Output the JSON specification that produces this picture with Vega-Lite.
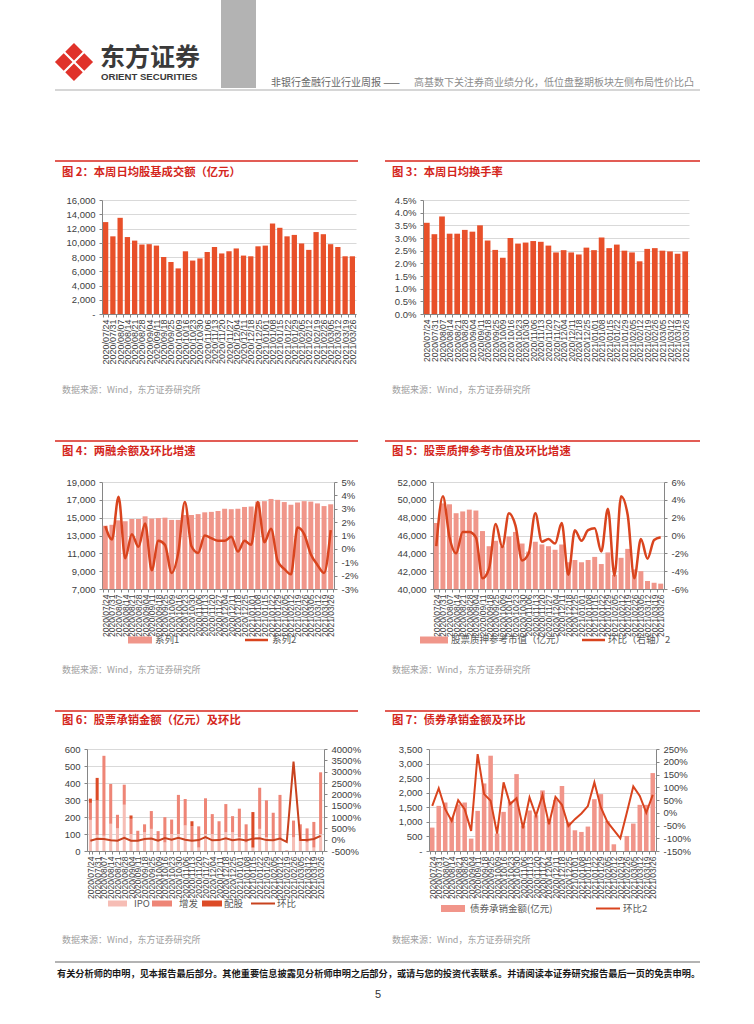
{
"$schema": "https://vega.github.io/schema/vega-lite/v6.json",
"padding": 0,
"background": "white",
"autosize": {"type": "pad"},
"bounds": "full",
"spacing": 0,
"config": {
  "view": {"stroke": null},
  "font": "Liberation Sans",
  "axis": {"labelFont": "Liberation Sans", "labelFontSize": 9.5, "labelColor": "#404040", "domainColor": "#868686", "tickColor": "#868686", "tickSize": 3, "gridColor": "#D9D9D9", "labelPadding": 4, "grid": false},
  "axisX": {"labelAngle": -90, "labelFontSize": 8.5, "labelOverlap": false, "labelPadding": 2, "tickBand": "extent", "labelBound": false}
},
"datasets": {"w": [
{"d":"2020/07/24","amt":12900,"tr":3.6,"bal":14100,"c4":1.7,"mv":47400,"c5":-1.2,"IPO":183,"增发":100,"配股":25,"c6":-50,"bond":803,"c7":27},
{"d":"2020/07/31","amt":10900,"tr":3.15,"bal":14200,"c4":0.7,"mv":49600,"c5":4.4,"IPO":95,"增发":202,"配股":133,"c6":40,"bond":1549,"c7":96},
{"d":"2020/08/07","amt":13500,"tr":3.85,"bal":14700,"c4":3.9,"mv":49500,"c5":-0.2,"IPO":90,"增发":470,"配股":0,"c6":30,"bond":1664,"c7":14},
{"d":"2020/08/14","amt":10800,"tr":3.17,"bal":14600,"c4":-0.7,"mv":48500,"c5":-2.0,"IPO":160,"增发":234,"配股":0,"c6":-30,"bond":1150,"c7":-32},
{"d":"2020/08/21","amt":10300,"tr":3.17,"bal":14850,"c4":1.1,"mv":48700,"c5":0.4,"IPO":133,"增发":80,"配股":0,"c6":-46,"bond":1600,"c7":49},
{"d":"2020/08/28","amt":9750,"tr":3.32,"bal":14850,"c4":0.15,"mv":48900,"c5":0.4,"IPO":272,"增发":118,"配股":0,"c6":83,"bond":1664,"c7":14},
{"d":"2020/09/04","amt":9800,"tr":3.25,"bal":15150,"c4":1.9,"mv":48800,"c5":-0.2,"IPO":100,"增发":89,"配股":20,"c6":-46,"bond":425,"c7":-71},
{"d":"2020/09/11","amt":9600,"tr":3.5,"bal":14900,"c4":-1.6,"mv":46500,"c5":-4.8,"IPO":60,"增发":59,"配股":0,"c6":-43,"bond":1377,"c7":230},
{"d":"2020/09/18","amt":8000,"tr":2.9,"bal":14950,"c4":0.6,"mv":44800,"c5":-3.7,"IPO":110,"增发":47,"配股":0,"c6":32,"bond":2318,"c7":73},
{"d":"2020/09/25","amt":7300,"tr":2.53,"bal":15000,"c4":0.3,"mv":45400,"c5":1.3,"IPO":130,"增发":105,"配股":0,"c6":50,"bond":3270,"c7":47},
{"d":"2020/10/09","amt":6400,"tr":2.22,"bal":14750,"c4":-1.8,"mv":44800,"c5":-1.3,"IPO":60,"增发":57,"配股":0,"c6":-50,"bond":600,"c7":-82},
{"d":"2020/10/16","amt":8800,"tr":3.0,"bal":14750,"c4":-0.3,"mv":45900,"c5":2.5,"IPO":50,"增发":149,"配股":0,"c6":70,"bond":1343,"c7":119},
{"d":"2020/10/23","amt":7500,"tr":2.78,"bal":15300,"c4":3.5,"mv":46400,"c5":1.1,"IPO":100,"增发":85,"配股":0,"c6":-7,"bond":1700,"c7":34},
{"d":"2020/10/30","amt":7800,"tr":2.82,"bal":15300,"c4":0.2,"mv":45100,"c5":-2.8,"IPO":100,"增发":230,"配股":0,"c6":78,"bond":2639,"c7":57},
{"d":"2020/11/06","amt":8700,"tr":2.88,"bal":15400,"c4":-0.3,"mv":44200,"c5":-2.0,"IPO":150,"增发":156,"配股":0,"c6":-7,"bond":870,"c7":-61},
{"d":"2020/11/13","amt":9400,"tr":2.85,"bal":15600,"c4":1.0,"mv":45300,"c5":2.5,"IPO":60,"增发":85,"配股":30,"c6":-43,"bond":1390,"c7":60},
{"d":"2020/11/20","amt":8500,"tr":2.7,"bal":15650,"c4":0.8,"mv":45000,"c5":-0.7,"IPO":20,"增发":125,"配股":0,"c6":-17,"bond":1225,"c7":-12},
{"d":"2020/11/27","amt":8800,"tr":2.43,"bal":15750,"c4":0.6,"mv":44800,"c5":-0.4,"IPO":100,"增发":210,"配股":0,"c6":114,"bond":2080,"c7":70},
{"d":"2020/12/04","amt":9200,"tr":2.52,"bal":16000,"c4":0.6,"mv":44400,"c5":-0.9,"IPO":100,"增发":117,"配股":0,"c6":-30,"bond":1100,"c7":-45},
{"d":"2020/12/11","amt":8200,"tr":2.43,"bal":15950,"c4":0.9,"mv":45000,"c5":1.4,"IPO":60,"增发":115,"配股":0,"c6":-19,"bond":1750,"c7":62},
{"d":"2020/12/18","amt":8100,"tr":2.35,"bal":16000,"c4":-0.2,"mv":43000,"c5":-4.4,"IPO":110,"增发":166,"配股":0,"c6":58,"bond":2230,"c7":31},
{"d":"2020/12/25","amt":9500,"tr":2.62,"bal":16200,"c4":0.6,"mv":43250,"c5":0.6,"IPO":110,"增发":95,"配股":0,"c6":-26,"bond":1000,"c7":-52},
{"d":"2021/01/01","amt":9600,"tr":2.52,"bal":16250,"c4":0.3,"mv":43000,"c5":-0.6,"IPO":80,"增发":169,"配股":0,"c6":21,"bond":711,"c7":-25},
{"d":"2021/01/08","amt":12700,"tr":3.02,"bal":16800,"c4":3.5,"mv":43250,"c5":0.6,"IPO":50,"增发":107,"配股":0,"c6":-37,"bond":654,"c7":-3},
{"d":"2021/01/15","amt":12100,"tr":2.6,"bal":16850,"c4":0.5,"mv":43600,"c5":0.8,"IPO":20,"增发":0,"配股":209,"c6":45,"bond":838,"c7":26},
{"d":"2021/01/22","amt":10900,"tr":2.74,"bal":17100,"c4":1.5,"mv":42800,"c5":-1.8,"IPO":130,"增发":242,"配股":0,"c6":63,"bond":1779,"c7":119},
{"d":"2021/01/29","amt":11100,"tr":2.5,"bal":17000,"c4":-0.9,"mv":44100,"c5":3.0,"IPO":80,"增发":218,"配股":0,"c6":-20,"bond":1951,"c7":21},
{"d":"2021/02/05","amt":9900,"tr":2.43,"bal":16750,"c4":-1.5,"mv":41600,"c5":-4.5,"IPO":60,"增发":165,"配股":0,"c6":-24,"bond":1033,"c7":-36},
{"d":"2021/02/12","amt":9000,"tr":2.08,"bal":16450,"c4":-1.9,"mv":43500,"c5":4.4,"IPO":70,"增发":260,"配股":0,"c6":47,"bond":230,"c7":-68},
{"d":"2021/02/19","amt":11500,"tr":2.57,"bal":16700,"c4":1.6,"mv":44500,"c5":2.3,"IPO":3,"增发":2,"配股":0,"c6":-98,"bond":0,"c7":-100},
{"d":"2021/02/26","amt":11200,"tr":2.6,"bal":16850,"c4":1.1,"mv":42200,"c5":-4.8,"IPO":80,"增发":99,"配股":0,"c6":3450,"bond":516,"c7":0},
{"d":"2021/03/05","amt":9800,"tr":2.5,"bal":16800,"c4":-0.4,"mv":42000,"c5":-0.4,"IPO":60,"增发":97,"配股":0,"c6":-12,"bond":941,"c7":103},
{"d":"2021/03/12","amt":9400,"tr":2.47,"bal":16600,"c4":-1.2,"mv":40900,"c5":-2.6,"IPO":50,"增发":83,"配股":0,"c6":-15,"bond":1584,"c7":66},
{"d":"2021/03/19","amt":8100,"tr":2.38,"bal":16300,"c4":-1.8,"mv":40700,"c5":-0.5,"IPO":20,"增发":151,"配股":0,"c6":29,"bond":1584,"c7":0},
{"d":"2021/03/26","amt":8100,"tr":2.47,"bal":16500,"c4":1.4,"mv":40600,"c5":-0.2,"IPO":100,"增发":363,"配股":0,"c6":171,"bond":2674,"c7":70}
]},
"vconcat": [
{"width": 750, "height": 130, "layer": [
  {"data": {"values": [{}]}, "mark": {"type": "rect", "opacity": 0}, "encoding": {"x": {"value": 0}, "x2": {"value": 750}, "y": {"value": 0}, "y2": {"value": 130}}},
  {"data": {"values": [{}]}, "mark": {"type": "rect", "color": "#B3B3B3"}, "encoding": {"x": {"value": 221}, "x2": {"value": 256}, "y": {"value": 0}, "y2": {"value": 88}}},
  {"data": {"values": [{}]}, "mark": {"type": "point", "filled": true, "color": "#E0322A", "opacity": 1, "size": 1450, "shape": "M0,-1L0.46,-0.54L0,-0.08L-0.46,-0.54Z M-1,0L-0.54,-0.46L-0.08,0L-0.54,0.46Z M1,0L0.54,-0.46L0.08,0L0.54,0.46Z M0,1L0.46,0.54L0,0.08L-0.46,0.54Z"}, "encoding": {"x": {"value": 74}, "y": {"value": 62}}},
  {"data": {"values": [{}]}, "mark": {"type": "text", "text": "东方证券", "align": "left", "baseline": "middle", "font": "Noto Sans CJK SC", "fontSize": 25, "fontWeight": "bold", "color": "#3A3A3A"}, "encoding": {"x": {"value": 100}, "y": {"value": 58}}},
  {"data": {"values": [{}]}, "mark": {"type": "text", "text": "ORIENT SECURITIES", "align": "left", "baseline": "middle", "font": "Liberation Sans", "fontSize": 9.6, "fontWeight": "bold", "color": "#3A3A3A"}, "encoding": {"x": {"value": 101}, "y": {"value": 77}}},
  {"data": {"values": [{}]}, "mark": {"type": "text", "text": "非银行金融行业行业周报 ——", "align": "left", "baseline": "middle", "font": "Noto Sans CJK SC", "fontSize": 10, "color": "#666666"}, "encoding": {"x": {"value": 271}, "y": {"value": 83}}},
  {"data": {"values": [{}]}, "mark": {"type": "text", "text": "高基数下关注券商业绩分化，低位盘整期板块左侧布局性价比凸", "align": "left", "baseline": "middle", "font": "Noto Sans CJK SC", "fontSize": 10, "color": "#8C8C8C"}, "encoding": {"x": {"value": 414}, "y": {"value": 83}}},
  {"data": {"values": [{}]}, "mark": {"type": "rule", "color": "#C8C8C8", "strokeWidth": 1.5}, "encoding": {"x": {"value": 55}, "x2": {"value": 700}, "y": {"value": 90}}}
]},
{"hconcat": [
  {"width": 102, "height": 114, "data": {"values": [{}]}, "mark": {"type": "rect", "opacity": 0}, "encoding": {"x": {"value": 0}, "x2": {"value": 750}, "y": {"value": -70}, "y2": {"value": 220}}},
  {"width": 254, "height": 114, "data": {"name": "w"}, "layer": [
    {"mark": {"type": "bar", "color": "#E8502A"}, "encoding": {
      "x": {"field": "d", "type": "ordinal", "scale": {"paddingInner": 0.27, "paddingOuter": 0.135}, "axis": {"title": null, "labelFontSize": 9}},
      "y": {"field": "amt", "type": "quantitative", "scale": {"domain": [0, 16000], "nice": false}, "axis": {"title": null, "grid": true, "values": [0,2000,4000,6000,8000,10000,12000,14000,16000], "labelExpr": "datum.value == 0 ? '-' : format(datum.value, ',')"}}}},
    {"data": {"values": [{}]}, "mark": {"type": "rule", "color": "#D9261C", "strokeWidth": 1.5}, "encoding": {"x": {"value": -47}, "x2": {"value": 256}, "y": {"value": -39}}},
    {"data": {"values": [{}]}, "mark": {"type": "text", "text": "图 2：本周日均股基成交额（亿元）", "align": "left", "baseline": "middle", "font": "Noto Sans CJK SC", "fontSize": 11.3, "fontWeight": "bold", "color": "#D4261C"}, "encoding": {"x": {"value": -40}, "y": {"value": -27}}},
    {"data": {"values": [{}]}, "mark": {"type": "text", "text": "数据来源：Wind，东方证券研究所", "align": "left", "baseline": "middle", "font": "Noto Sans CJK SC", "fontSize": 9, "color": "#A0A0A0"}, "encoding": {"x": {"value": -40}, "y": {"value": 190}}}
  ]},
  {"width": 67, "height": 114, "data": {"values": []}, "mark": "point"},
  {"width": 266, "height": 114, "data": {"name": "w"}, "layer": [
    {"mark": {"type": "bar", "color": "#E8502A"}, "encoding": {
      "x": {"field": "d", "type": "ordinal", "scale": {"paddingInner": 0.25, "paddingOuter": 0.125}, "axis": {"title": null}},
      "y": {"field": "tr", "type": "quantitative", "scale": {"domain": [0, 4.5], "nice": false}, "axis": {"title": null, "grid": true, "values": [0,0.5,1,1.5,2,2.5,3,3.5,4,4.5], "labelExpr": "format(datum.value, '.1f') + '%'"}}}},
    {"data": {"values": [{}]}, "mark": {"type": "rule", "color": "#D9261C", "strokeWidth": 1.5}, "encoding": {"x": {"value": -38}, "x2": {"value": 277}, "y": {"value": -39}}},
    {"data": {"values": [{}]}, "mark": {"type": "text", "text": "图 3：本周日均换手率", "align": "left", "baseline": "middle", "font": "Noto Sans CJK SC", "fontSize": 11.3, "fontWeight": "bold", "color": "#D4261C"}, "encoding": {"x": {"value": -31}, "y": {"value": -27}}},
    {"data": {"values": [{}]}, "mark": {"type": "text", "text": "数据来源：Wind，东方证券研究所", "align": "left", "baseline": "middle", "font": "Noto Sans CJK SC", "fontSize": 9, "color": "#A0A0A0"}, "encoding": {"x": {"value": -31}, "y": {"value": 190}}}
  ]}
], "spacing": 0, "bounds": "flush"},
{"hconcat": [
  {"width": 102, "height": 107, "data": {"values": [{}]}, "mark": {"type": "rect", "opacity": 0}, "encoding": {"x": {"value": 0}, "x2": {"value": 750}, "y": {"value": -62}, "y2": {"value": 218}}},
  {"width": 232, "height": 107, "data": {"name": "w"}, "resolve": {"scale": {"y": "independent"}}, "layer": [
    {"mark": {"type": "bar", "color": "#F0968A", "clip": true}, "encoding": {
      "x": {"field": "d", "type": "ordinal", "scale": {"paddingInner": 0.25, "paddingOuter": 0.125}, "axis": {"title": null}},
      "y": {"field": "bal", "type": "quantitative", "scale": {"domain": [7000, 19000], "nice": false, "zero": false}, "axis": {"title": null, "grid": true, "values": [7000,9000,11000,13000,15000,17000,19000], "labelExpr": "format(datum.value, ',')"}},
      "y2": {"datum": 7000}}},
    {"mark": {"type": "line", "color": "#D9441E", "strokeWidth": 2.5, "interpolate": "monotone"}, "encoding": {
      "x": {"field": "d", "type": "ordinal", "scale": {"paddingInner": 0.25, "paddingOuter": 0.125}, "axis": {"title": null}},
      "y": {"field": "c4", "type": "quantitative", "scale": {"domain": [-3, 5], "nice": false, "zero": false}, "axis": {"title": null, "orient": "right", "values": [-3,-2,-1,0,1,2,3,4,5], "labelExpr": "datum.value + '%'"}}}},
    {"data": {"values": [{}]}, "mark": {"type": "rule", "color": "#D9261C", "strokeWidth": 1.5}, "encoding": {"x": {"value": -47}, "x2": {"value": 256}, "y": {"value": -41}}},
    {"data": {"values": [{}]}, "mark": {"type": "text", "text": "图 4：两融余额及环比增速", "align": "left", "baseline": "middle", "font": "Noto Sans CJK SC", "fontSize": 11.3, "fontWeight": "bold", "color": "#D4261C"}, "encoding": {"x": {"value": -40}, "y": {"value": -30}}},
    {"data": {"values": [{}]}, "mark": {"type": "rect", "color": "#F0968A"}, "encoding": {"x": {"value": 26}, "x2": {"value": 50}, "y": {"value": 154.5}, "y2": {"value": 161.5}}},
    {"data": {"values": [{}]}, "mark": {"type": "text", "text": "系列1", "align": "left", "baseline": "middle", "font": "Noto Sans CJK SC", "fontSize": 9.5, "color": "#595959"}, "encoding": {"x": {"value": 53}, "y": {"value": 158}}},
    {"data": {"values": [{}]}, "mark": {"type": "rule", "color": "#D9441E", "strokeWidth": 2.5}, "encoding": {"x": {"value": 143}, "x2": {"value": 166}, "y": {"value": 158}}},
    {"data": {"values": [{}]}, "mark": {"type": "text", "text": "系列2", "align": "left", "baseline": "middle", "font": "Noto Sans CJK SC", "fontSize": 9.5, "color": "#595959"}, "encoding": {"x": {"value": 170}, "y": {"value": 158}}},
    {"data": {"values": [{}]}, "mark": {"type": "text", "text": "数据来源：Wind，东方证券研究所", "align": "left", "baseline": "middle", "font": "Noto Sans CJK SC", "fontSize": 9, "color": "#A0A0A0"}, "encoding": {"x": {"value": -40}, "y": {"value": 188}}}
  ]},
  {"width": 99, "height": 107, "data": {"values": []}, "mark": "point"},
  {"width": 231, "height": 107, "data": {"name": "w"}, "resolve": {"scale": {"y": "independent"}}, "layer": [
    {"mark": {"type": "bar", "color": "#F0968A", "clip": true}, "encoding": {
      "x": {"field": "d", "type": "ordinal", "scale": {"paddingInner": 0.25, "paddingOuter": 0.125}, "axis": {"title": null}},
      "y": {"field": "mv", "type": "quantitative", "scale": {"domain": [40000, 52000], "nice": false, "zero": false}, "axis": {"title": null, "grid": true, "values": [40000,42000,44000,46000,48000,50000,52000], "labelExpr": "format(datum.value, ',')"}},
      "y2": {"datum": 40000}}},
    {"mark": {"type": "line", "color": "#D9441E", "strokeWidth": 2.5, "interpolate": "monotone"}, "encoding": {
      "x": {"field": "d", "type": "ordinal", "scale": {"paddingInner": 0.25, "paddingOuter": 0.125}, "axis": {"title": null}},
      "y": {"field": "c5", "type": "quantitative", "scale": {"domain": [-6, 6], "nice": false, "zero": false}, "axis": {"title": null, "orient": "right", "values": [-6,-4,-2,0,2,4,6], "labelExpr": "datum.value + '%'"}}}},
    {"data": {"values": [{}]}, "mark": {"type": "rule", "color": "#D9261C", "strokeWidth": 1.5}, "encoding": {"x": {"value": -48}, "x2": {"value": 267}, "y": {"value": -41}}},
    {"data": {"values": [{}]}, "mark": {"type": "text", "text": "图 5：股票质押参考市值及环比增速", "align": "left", "baseline": "middle", "font": "Noto Sans CJK SC", "fontSize": 11.3, "fontWeight": "bold", "color": "#D4261C"}, "encoding": {"x": {"value": -41}, "y": {"value": -30}}},
    {"data": {"values": [{}]}, "mark": {"type": "rect", "color": "#F0968A"}, "encoding": {"x": {"value": -13}, "x2": {"value": 15}, "y": {"value": 154.5}, "y2": {"value": 161.5}}},
    {"data": {"values": [{}]}, "mark": {"type": "text", "text": "股票质押参考市值（亿元）", "align": "left", "baseline": "middle", "font": "Noto Sans CJK SC", "fontSize": 9.5, "color": "#595959"}, "encoding": {"x": {"value": 18}, "y": {"value": 158}}},
    {"data": {"values": [{}]}, "mark": {"type": "rule", "color": "#D9441E", "strokeWidth": 2.5}, "encoding": {"x": {"value": 149}, "x2": {"value": 172}, "y": {"value": 158}}},
    {"data": {"values": [{}]}, "mark": {"type": "text", "text": "环比（右轴）2", "align": "left", "baseline": "middle", "font": "Noto Sans CJK SC", "fontSize": 9.5, "color": "#595959"}, "encoding": {"x": {"value": 175}, "y": {"value": 158}}},
    {"data": {"values": [{}]}, "mark": {"type": "text", "text": "数据来源：Wind，东方证券研究所", "align": "left", "baseline": "middle", "font": "Noto Sans CJK SC", "fontSize": 9, "color": "#A0A0A0"}, "encoding": {"x": {"value": -41}, "y": {"value": 188}}}
  ]}
], "spacing": 0, "bounds": "flush"},
{"hconcat": [
  {"width": 87, "height": 102, "data": {"values": [{}]}, "mark": {"type": "rect", "opacity": 0}, "encoding": {"x": {"value": 0}, "x2": {"value": 750}, "y": {"value": -49}, "y2": {"value": 211}}},
  {"width": 237, "height": 102, "data": {"name": "w"}, "resolve": {"scale": {"y": "independent"}}, "layer": [
    {"transform": [{"fold": ["IPO", "增发", "配股"], "as": ["kind", "val"]}],
     "mark": {"type": "bar"}, "encoding": {
      "x": {"field": "d", "type": "ordinal", "scale": {"paddingInner": 0.55, "paddingOuter": 0.275}, "axis": {"title": null}},
      "y": {"field": "val", "type": "quantitative", "stack": "zero", "scale": {"domain": [0, 600], "nice": false}, "axis": {"title": null, "grid": true, "values": [0,100,200,300,400,500,600]}},
      "color": {"field": "kind", "type": "nominal", "scale": {"domain": ["IPO", "增发", "配股"], "range": ["#F6BDB5", "#EE8576", "#DC4B27"]}, "legend": null},
      "order": {"field": "kind", "sort": "ascending"}}},
    {"mark": {"type": "line", "color": "#C8421E", "strokeWidth": 2}, "encoding": {
      "x": {"field": "d", "type": "ordinal", "scale": {"paddingInner": 0.55, "paddingOuter": 0.275}, "axis": {"title": null}},
      "y": {"field": "c6", "type": "quantitative", "scale": {"domain": [-500, 4000], "nice": false, "zero": false}, "axis": {"title": null, "orient": "right", "values": [-500,0,500,1000,1500,2000,2500,3000,3500,4000], "labelExpr": "datum.value + '%'"}}}},
    {"data": {"values": [{}]}, "mark": {"type": "rule", "color": "#D9261C", "strokeWidth": 1.5}, "encoding": {"x": {"value": -32}, "x2": {"value": 271}, "y": {"value": -38}}},
    {"data": {"values": [{}]}, "mark": {"type": "text", "text": "图 6：股票承销金额（亿元）及环比", "align": "left", "baseline": "middle", "font": "Noto Sans CJK SC", "fontSize": 11.3, "fontWeight": "bold", "color": "#D4261C"}, "encoding": {"x": {"value": -25}, "y": {"value": -28}}},
    {"data": {"values": [{}]}, "mark": {"type": "rect", "color": "#F6BDB5"}, "encoding": {"x": {"value": 21}, "x2": {"value": 40}, "y": {"value": 151.5}, "y2": {"value": 157.5}}},
    {"data": {"values": [{}]}, "mark": {"type": "text", "text": "IPO", "align": "left", "baseline": "middle", "font": "Noto Sans CJK SC", "fontSize": 9.5, "color": "#595959"}, "encoding": {"x": {"value": 47}, "y": {"value": 154.5}}},
    {"data": {"values": [{}]}, "mark": {"type": "rect", "color": "#EE8576"}, "encoding": {"x": {"value": 65}, "x2": {"value": 85}, "y": {"value": 151.5}, "y2": {"value": 157.5}}},
    {"data": {"values": [{}]}, "mark": {"type": "text", "text": "增发", "align": "left", "baseline": "middle", "font": "Noto Sans CJK SC", "fontSize": 9.5, "color": "#595959"}, "encoding": {"x": {"value": 92}, "y": {"value": 154.5}}},
    {"data": {"values": [{}]}, "mark": {"type": "rect", "color": "#DC4B27"}, "encoding": {"x": {"value": 115}, "x2": {"value": 135}, "y": {"value": 151.5}, "y2": {"value": 157.5}}},
    {"data": {"values": [{}]}, "mark": {"type": "text", "text": "配股", "align": "left", "baseline": "middle", "font": "Noto Sans CJK SC", "fontSize": 9.5, "color": "#595959"}, "encoding": {"x": {"value": 137}, "y": {"value": 154.5}}},
    {"data": {"values": [{}]}, "mark": {"type": "rule", "color": "#C8421E", "strokeWidth": 2}, "encoding": {"x": {"value": 164}, "x2": {"value": 188}, "y": {"value": 154.5}}},
    {"data": {"values": [{}]}, "mark": {"type": "text", "text": "环比", "align": "left", "baseline": "middle", "font": "Noto Sans CJK SC", "fontSize": 9.5, "color": "#595959"}, "encoding": {"x": {"value": 190}, "y": {"value": 154.5}}},
    {"data": {"values": [{}]}, "mark": {"type": "text", "text": "数据来源：Wind，东方证券研究所", "align": "left", "baseline": "middle", "font": "Noto Sans CJK SC", "fontSize": 9, "color": "#A0A0A0"}, "encoding": {"x": {"value": -25}, "y": {"value": 191}}}
  ]},
  {"width": 105, "height": 102, "data": {"values": []}, "mark": "point"},
  {"width": 227, "height": 102, "data": {"name": "w"}, "resolve": {"scale": {"y": "independent"}}, "layer": [
    {"mark": {"type": "bar", "color": "#F1958A"}, "encoding": {
      "x": {"field": "d", "type": "ordinal", "scale": {"paddingInner": 0.3, "paddingOuter": 0.15}, "axis": {"title": null}},
      "y": {"field": "bond", "type": "quantitative", "scale": {"domain": [0, 3500], "nice": false}, "axis": {"title": null, "grid": true, "values": [0,500,1000,1500,2000,2500,3000,3500], "labelExpr": "datum.value == 0 ? '-' : format(datum.value, ',')"}}}},
    {"mark": {"type": "line", "color": "#D9441E", "strokeWidth": 2}, "encoding": {
      "x": {"field": "d", "type": "ordinal", "scale": {"paddingInner": 0.3, "paddingOuter": 0.15}, "axis": {"title": null}},
      "y": {"field": "c7", "type": "quantitative", "scale": {"domain": [-150, 250], "nice": false, "zero": false}, "axis": {"title": null, "orient": "right", "values": [-150,-100,-50,0,50,100,150,200,250], "labelExpr": "datum.value + '%'"}}}},
    {"data": {"values": [{}]}, "mark": {"type": "rule", "color": "#D9261C", "strokeWidth": 1.5}, "encoding": {"x": {"value": -44}, "x2": {"value": 271}, "y": {"value": -38}}},
    {"data": {"values": [{}]}, "mark": {"type": "text", "text": "图 7：债券承销金额及环比", "align": "left", "baseline": "middle", "font": "Noto Sans CJK SC", "fontSize": 11.3, "fontWeight": "bold", "color": "#D4261C"}, "encoding": {"x": {"value": -37}, "y": {"value": -28}}},
    {"data": {"values": [{}]}, "mark": {"type": "rect", "color": "#F1958A"}, "encoding": {"x": {"value": 12}, "x2": {"value": 36}, "y": {"value": 156}, "y2": {"value": 163}}},
    {"data": {"values": [{}]}, "mark": {"type": "text", "text": "债券承销金额(亿元)", "align": "left", "baseline": "middle", "font": "Noto Sans CJK SC", "fontSize": 9.5, "color": "#595959"}, "encoding": {"x": {"value": 41}, "y": {"value": 159.5}}},
    {"data": {"values": [{}]}, "mark": {"type": "rule", "color": "#D9441E", "strokeWidth": 2}, "encoding": {"x": {"value": 167}, "x2": {"value": 191}, "y": {"value": 159.5}}},
    {"data": {"values": [{}]}, "mark": {"type": "text", "text": "环比2", "align": "left", "baseline": "middle", "font": "Noto Sans CJK SC", "fontSize": 9.5, "color": "#595959"}, "encoding": {"x": {"value": 194}, "y": {"value": 159.5}}},
    {"data": {"values": [{}]}, "mark": {"type": "text", "text": "数据来源：Wind，东方证券研究所", "align": "left", "baseline": "middle", "font": "Noto Sans CJK SC", "fontSize": 9, "color": "#A0A0A0"}, "encoding": {"x": {"value": -37}, "y": {"value": 191}}}
  ]}
], "spacing": 0, "bounds": "flush"},
{"width": 750, "height": 64, "layer": [
  {"data": {"values": [{}]}, "mark": {"type": "rect", "opacity": 0}, "encoding": {"x": {"value": 0}, "x2": {"value": 750}, "y": {"value": 0}, "y2": {"value": 64}}},
  {"data": {"values": [{}]}, "mark": {"type": "rule", "color": "#9A9A9A", "strokeWidth": 1.5}, "encoding": {"x": {"value": 55}, "x2": {"value": 700}, "y": {"value": 2}}},
  {"data": {"values": [{}]}, "mark": {"type": "text", "text": "有关分析师的申明，见本报告最后部分。其他重要信息披露见分析师申明之后部分，或请与您的投资代表联系。并请阅读本证券研究报告最后一页的免责申明。", "align": "left", "baseline": "middle", "font": "Noto Sans CJK SC", "fontSize": 9.2, "fontWeight": "bold", "color": "#1A1A1A"}, "encoding": {"x": {"value": 57}, "y": {"value": 14}}},
  {"data": {"values": [{}]}, "mark": {"type": "text", "text": "5", "align": "center", "baseline": "middle", "font": "Liberation Sans", "fontSize": 11, "color": "#333333"}, "encoding": {"x": {"value": 378}, "y": {"value": 35}}}
]}
]
}
